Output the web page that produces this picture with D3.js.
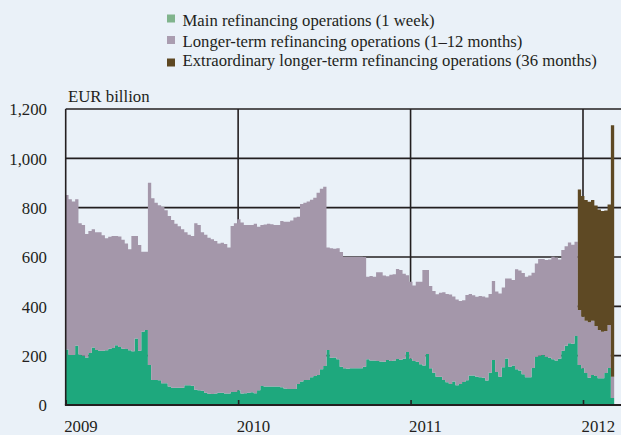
<!DOCTYPE html>
<html>
<head>
<meta charset="utf-8">
<script src="https://cdn.jsdelivr.net/npm/d3@7"></script>
<style>
  body { margin: 0; background: #eaf1f8; }
  svg { display: block; }
  text { font-family: "Liberation Serif", "Times New Roman", serif; fill: #231f20; }
</style>
</head>
<body>
<div id="chart"></div>
<script>
// weekly allotments, EUR billion, one value per week starting 31 Dec 2008
var mro = [225,203,203,240,205,200,193,211,233,223,220,220,222,228,231,242,235,228,227,222,
    218,270,220,297,304,162,101,101,100,88,88,75,70,70,70,70,80,80,78,62,
    60,58,50,46,45,47,50,50,47,47,53,53,60,47,48,50,52,48,60,77,
    75,75,75,75,75,72,67,65,65,65,85,95,101,101,112,118,122,145,158,223,
    192,193,185,155,149,147,149,149,149,149,155,185,180,180,178,176,175,182,178,180,
    186,183,187,215,189,178,175,165,160,207,149,131,115,115,101,92,85,95,80,85,
    93,100,120,120,115,113,110,99,131,182,134,115,153,189,155,160,145,140,125,112,
    112,150,196,200,203,196,192,185,180,187,220,240,250,248,280,162,149,130,110,122,
    118,108,108,130,150,28];

var ltro = [626,631,622,594,532,530,500,494,479,477,480,468,454,454,454,443,448,442,428,409,
    467,415,429,324,317,739,737,719,710,715,702,691,680,665,655,642,620,610,607,675,
    670,642,640,632,627,618,605,608,606,592,673,684,693,693,682,680,678,687,663,653,
    657,660,658,655,655,674,676,678,683,695,678,720,719,724,720,722,738,732,727,416,
    443,440,450,465,452,454,452,452,452,452,445,335,343,340,360,362,350,340,350,350,
    365,364,345,311,311,306,325,335,387,340,333,331,334,340,356,358,363,345,348,337,
    332,346,330,325,324,329,330,337,319,321,326,337,323,324,358,347,405,405,410,408,
    413,386,378,392,389,392,398,416,418,403,408,404,409,402,382,223,209,212,225,220,
    202,196,189,170,174,87];

var eltro = [0,0,0,0,0,0,0,0,0,0,0,0,0,0,0,0,0,0,0,0,
    0,0,0,0,0,0,0,0,0,0,0,0,0,0,0,0,0,0,0,0,
    0,0,0,0,0,0,0,0,0,0,0,0,0,0,0,0,0,0,0,0,
    0,0,0,0,0,0,0,0,0,0,0,0,0,0,0,0,0,0,0,0,
    0,0,0,0,0,0,0,0,0,0,0,0,0,0,0,0,0,0,0,0,
    0,0,0,0,0,0,0,0,0,0,0,0,0,0,0,0,0,0,0,0,
    0,0,0,0,0,0,0,0,0,0,0,0,0,0,0,0,0,0,0,0,
    0,0,0,0,0,0,0,0,0,0,0,0,0,0,0,489,489,489,489,489,
    489,489,489,489,489,1019];

var yTicks = [0,200,400,600,800,1000,1200];
var years = ["2009","2010","2011","2012"];
var legendLabels = ["Main refinancing operations (1 week)",
    "Longer-term refinancing operations (1\u201312 months)",
    "Extraordinary longer-term refinancing operations (36 months)"];

var keys = ["mro","ltro","eltro"];
var colors = {mro: "#1ea87d", ltro: "#a497aa", eltro: "#5e4924"};
var legendColors = ["#80b48c", "#aa9db0", "#5e4822"];

var width = 621, height = 435;

var svg = d3.select("#chart").append("svg")
    .attr("width", width)
    .attr("height", height);

var parseYear = d3.timeParse("%Y");
var dates = d3.timeWednesday.range(new Date(2008, 11, 31), new Date(2012, 2, 1));

var rows = dates.map(function(d, i) {
    return {date: d, mro: mro[i], ltro: ltro[i], eltro: eltro[i]};
});
// close the last weekly step
var last = rows[rows.length - 1];
rows.push({date: d3.timeDay.offset(last.date, 7), mro: last.mro, ltro: last.ltro, eltro: last.eltro});

var x = d3.scaleTime()
    .domain([parseYear("2009"), parseYear("2012")])
    .range([65.7, 583]);

var y = d3.scaleLinear()
    .domain([0, 1200])
    .range([405, 109]);

var right = 621;

// grid under the areas
svg.append("g")
    .attr("class", "hgrid")
    .selectAll("line")
    .data(yTicks.filter(function(d) { return d > 0; }))
    .enter().append("line")
    .attr("x1", x(parseYear("2009")))
    .attr("x2", right)
    .attr("y1", function(d) { return y(d); })
    .attr("y2", function(d) { return y(d); })
    .attr("stroke", "#231f20")
    .attr("stroke-width", 1.6);

svg.append("g")
    .attr("class", "vgrid")
    .selectAll("line")
    .data(years.slice(1))
    .enter().append("line")
    .attr("x1", function(d) { return x(parseYear(d)); })
    .attr("x2", function(d) { return x(parseYear(d)); })
    .attr("y1", y(1200))
    .attr("y2", y(0))
    .attr("stroke", "#231f20")
    .attr("stroke-width", 1.6);

var stack = d3.stack().keys(keys);
var series = stack(rows);

var area = d3.area()
    .curve(d3.curveStepAfter)
    .x(function(d) { return x(d.data.date); })
    .y0(function(d) { return y(d[0]); })
    .y1(function(d) { return y(d[1]); });

svg.append("g")
    .selectAll("path")
    .data(series)
    .enter().append("path")
    .attr("fill", function(d) { return colors[d.key]; })
    .attr("d", area);

// axes on top
svg.append("line")
    .attr("x1", x(parseYear("2009")))
    .attr("x2", x(parseYear("2009")))
    .attr("y1", y(1200))
    .attr("y2", y(0))
    .attr("stroke", "#231f20")
    .attr("stroke-width", 1.6);

var xAxis = d3.axisBottom(x)
    .tickValues(years.map(parseYear))
    .tickFormat(d3.timeFormat("%Y"))
    .tickSize(-5)
    .tickSizeOuter(0);

var gx = svg.append("g")
    .attr("transform", "translate(0," + y(0) + ")")
    .call(xAxis);
gx.select(".domain").remove();
gx.selectAll(".tick line").attr("stroke", "#231f20").attr("stroke-width", 1.6);
gx.selectAll(".tick text")
    .attr("text-anchor", "start")
    .attr("x", -2)
    .attr("y", 26.5)
    .attr("dy", null)
    .style("font-size", "16.8px");

svg.append("line")
    .attr("x1", x(parseYear("2009")) - 0.8)
    .attr("x2", right)
    .attr("y1", y(0))
    .attr("y2", y(0))
    .attr("stroke", "#231f20")
    .attr("stroke-width", 2);

var yAxis = d3.axisLeft(y)
    .tickValues(yTicks)
    .tickFormat(d3.format(","))
    .tickSize(0);

var gy = svg.append("g")
    .attr("transform", "translate(47,0)")
    .call(yAxis);
gy.select(".domain").remove();
gy.selectAll(".tick text")
    .attr("x", 0)
    .attr("dy", "0.34em")
    .style("font-size", "16.8px");

svg.append("text")
    .attr("x", 68)
    .attr("y", 101.7)
    .style("font-size", "16.8px")
    .text("EUR billion");

// legend
var legend = svg.append("g").attr("class", "legend");
var legendY = [14.5, 36, 58.5];
var legendBase = [26, 46.5, 66];

legend.selectAll("rect")
    .data(legendLabels)
    .enter().append("rect")
    .attr("x", 167)
    .attr("y", function(d, i) { return legendY[i]; })
    .attr("width", 8)
    .attr("height", 8)
    .attr("fill", function(d, i) { return legendColors[i]; });

legend.selectAll("text")
    .data(legendLabels)
    .enter().append("text")
    .attr("x", 182.5)
    .attr("y", function(d, i) { return legendBase[i]; })
    .style("font-size", "16.7px")
    .text(function(d) { return d; });
</script>
</body>
</html>
